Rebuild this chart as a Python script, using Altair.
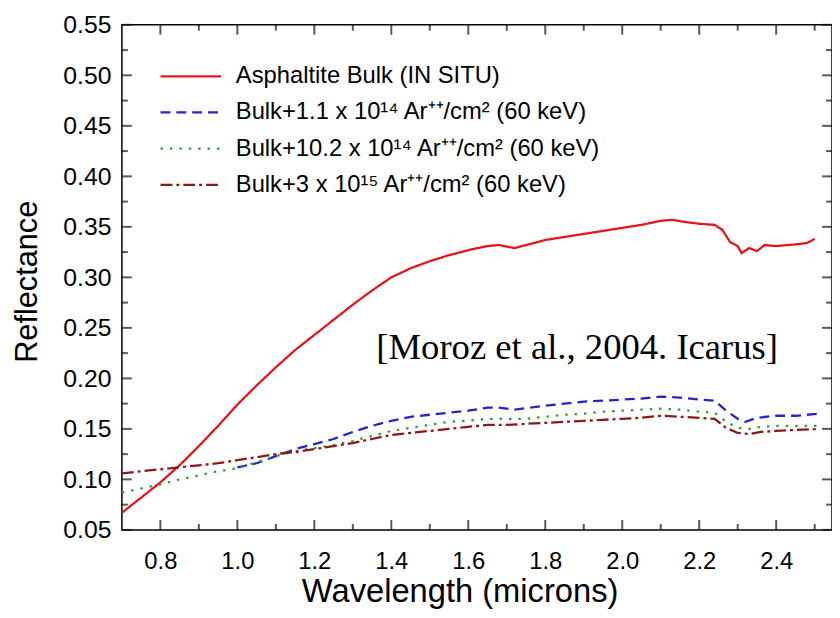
import altair as alt
import pandas as pd

# ---------------- data ----------------
series_names = [
    "Asphaltite Bulk (IN SITU)",
    "Bulk+1.1 x 10¹⁴ Ar⁺⁺/cm² (60 keV)",
    "Bulk+10.2 x 10¹⁴ Ar⁺⁺/cm² (60 keV)",
    "Bulk+3 x 10¹⁵ Ar⁺⁺/cm² (60 keV)",
]
series_colors = ["#e3161d", "#2424c8", "#3a9a3a", "#8a1a1a"]
series_dashes = [[1, 0], [10, 6], [2.5, 7], [12, 4, 3, 4]]

bulk_wl = [0.70, 0.75, 0.80, 0.85, 0.90, 0.95, 1.00, 1.05, 1.10, 1.15, 1.20, 1.25,
           1.30, 1.35, 1.40, 1.45, 1.50, 1.55, 1.60, 1.65, 1.68, 1.72, 1.76, 1.80,
           1.85, 1.90, 1.95, 2.00, 2.05, 2.10, 2.13, 2.16, 2.20, 2.24, 2.26, 2.28,
           2.30, 2.31, 2.33, 2.35, 2.37, 2.40, 2.43, 2.46, 2.48, 2.50]
bulk_refl = [0.067, 0.082, 0.097, 0.114, 0.133, 0.153, 0.174, 0.193, 0.211, 0.228, 0.243, 0.258,
             0.273, 0.287, 0.300, 0.309, 0.316, 0.322, 0.327, 0.331, 0.332, 0.329, 0.333, 0.337,
             0.340, 0.343, 0.346, 0.349, 0.352, 0.356, 0.357, 0.355, 0.353, 0.352, 0.347, 0.335,
             0.331, 0.324, 0.329, 0.326, 0.332, 0.331, 0.332, 0.333, 0.334, 0.338]

ar11_wl = [1.00, 1.05, 1.10, 1.15, 1.20, 1.25, 1.30, 1.35, 1.40, 1.45, 1.50, 1.55,
           1.60, 1.65, 1.68, 1.72, 1.76, 1.80, 1.85, 1.90, 1.95, 2.00, 2.05, 2.10,
           2.15, 2.20, 2.24, 2.27, 2.30, 2.32, 2.35, 2.40, 2.45, 2.51]
ar11_refl = [0.112, 0.116, 0.123, 0.130, 0.135, 0.140, 0.147, 0.153, 0.158, 0.162, 0.164, 0.166,
             0.168, 0.171, 0.171, 0.169, 0.171, 0.173, 0.175, 0.177, 0.178, 0.179, 0.180, 0.182,
             0.181, 0.179, 0.178, 0.168, 0.160, 0.157, 0.161, 0.163, 0.163, 0.165]

ar102_wl = [0.70, 0.75, 0.80, 0.85, 0.90, 0.95, 1.00, 1.05, 1.10, 1.15, 1.20, 1.25,
            1.30, 1.35, 1.40, 1.45, 1.50, 1.55, 1.60, 1.65, 1.70, 1.75, 1.80, 1.85,
            1.90, 1.95, 2.00, 2.05, 2.10, 2.15, 2.20, 2.24, 2.27, 2.30, 2.33, 2.36,
            2.40, 2.45, 2.51]
ar102_refl = [0.087, 0.091, 0.095, 0.100, 0.104, 0.108, 0.111, 0.117, 0.123, 0.128, 0.131, 0.134,
              0.138, 0.143, 0.148, 0.151, 0.154, 0.157, 0.158, 0.160, 0.160, 0.160, 0.162, 0.164,
              0.165, 0.167, 0.168, 0.169, 0.170, 0.169, 0.167, 0.166, 0.157, 0.151, 0.150, 0.152,
              0.153, 0.153, 0.153]

ar3_wl = [0.70, 0.75, 0.80, 0.85, 0.90, 0.95, 1.00, 1.05, 1.10, 1.15, 1.20, 1.25,
          1.30, 1.35, 1.40, 1.45, 1.50, 1.55, 1.60, 1.65, 1.70, 1.75, 1.80, 1.85,
          1.90, 1.95, 2.00, 2.05, 2.10, 2.15, 2.20, 2.24, 2.27, 2.30, 2.33, 2.36,
          2.40, 2.45, 2.51]
ar3_refl = [0.106, 0.108, 0.110, 0.112, 0.114, 0.116, 0.119, 0.122, 0.125, 0.127, 0.130, 0.133,
            0.136, 0.140, 0.144, 0.146, 0.148, 0.150, 0.152, 0.154, 0.154, 0.155, 0.156, 0.157,
            0.158, 0.159, 0.160, 0.161, 0.163, 0.162, 0.161, 0.160, 0.151, 0.146, 0.145, 0.147,
            0.148, 0.149, 0.150]

x_major_ticks = [0.8, 1.0, 1.2, 1.4, 1.6, 1.8, 2.0, 2.2, 2.4]
x_minor_ticks = [0.9, 1.1, 1.3, 1.5, 1.7, 1.9, 2.1, 2.3, 2.5]
y_major_ticks = [0.05, 0.10, 0.15, 0.20, 0.25, 0.30, 0.35, 0.40, 0.45, 0.50, 0.55]
y_minor_ticks = [0.075, 0.125, 0.175, 0.225, 0.275, 0.325, 0.375, 0.425, 0.475, 0.525]

note_text = ["[Moroz et al., 2004. Icarus]"]
note_wl = [1.883]
note_refl = [0.230]

# ---------------- tables ----------------
frames = []
for name, wl, rf in [(series_names[0], bulk_wl, bulk_refl),
                     (series_names[1], ar11_wl, ar11_refl),
                     (series_names[2], ar102_wl, ar102_refl),
                     (series_names[3], ar3_wl, ar3_refl)]:
    frames.append(pd.DataFrame({"w": wl, "r": rf, "series": name}))
df = pd.concat(frames, ignore_index=True)
df["order"] = df.index
note_df = pd.DataFrame({"w": note_wl, "r": note_refl, "t": note_text})
legend_df = pd.DataFrame({"series": series_names})

FONT = "Liberation Sans"
W, H = 717, 510
MAJ, MIN = 10, 6
x_scale = alt.Scale(domain=[0.7, 2.545], nice=False, zero=False)
y_scale = alt.Scale(domain=[0.05, 0.55], nice=False, zero=False)
color_scale = alt.Scale(domain=series_names, range=series_colors)
dash_scale = alt.Scale(domain=series_names, range=series_dashes)
legend_rows = alt.Scale(type="point", domain=series_names, range=[52, 161.5], padding=0)

x_axis_bottom = alt.Axis(
    values=x_major_ticks, orient="bottom", format=".1f", ticks=False, domain=False,
    grid=False, labelFont=FONT, labelFontSize=24, labelColor="black", labelPadding=20,
    labelFlush=False, labelOverlap=False,
    title="Wavelength (microns)", titleFont=FONT, titleFontSize=33,
    titleFontWeight="normal", titleColor="black", titleX=341, titleY=62,
    titleAlign="center", titleBaseline="middle")
y_axis_left = alt.Axis(
    values=y_major_ticks, orient="left", format=".2f", ticks=False, domain=False,
    grid=False, labelFont=FONT, labelFontSize=25, labelColor="black", labelPadding=11,
    labelFlush=False, labelOverlap=False,
    title="Reflectance", titleFont=FONT, titleFontSize=31,
    titleFontWeight="normal", titleColor="black", titleAngle=270,
    titleX=-95, titleY=259, titleAlign="center", titleBaseline="middle")

lines = alt.Chart(df).mark_line(strokeWidth=2.3).encode(
    x=alt.X("w:Q", scale=x_scale, axis=x_axis_bottom),
    y=alt.Y("r:Q", scale=y_scale, axis=y_axis_left),
    color=alt.Color("series:N", scale=color_scale, legend=None),
    strokeDash=alt.StrokeDash("series:N", scale=dash_scale, legend=None),
    order="order:Q",
)

note = alt.Chart(note_df).mark_text(
    font="Liberation Serif", fontSize=37, color="black", align="center", baseline="middle"
).encode(
    x=alt.X("w:Q", scale=x_scale, axis=None),
    y=alt.Y("r:Q", scale=y_scale, axis=None),
    text="t:N",
)

key_lines = alt.Chart(legend_df).mark_rule(strokeWidth=2.3).encode(
    y=alt.Y("series:N", scale=legend_rows, axis=None),
    x=alt.value(39), x2=alt.value(100),
    color=alt.Color("series:N", scale=color_scale, legend=None),
    strokeDash=alt.StrokeDash("series:N", scale=dash_scale, legend=None),
)
key_text = alt.Chart(legend_df).mark_text(
    font=FONT, fontSize=24, color="black", align="left", baseline="middle"
).encode(
    y=alt.Y("series:N", scale=legend_rows, axis=None),
    x=alt.value(115),
    text="series:N",
)


# inward tick marks on all four sides, each shifted half its length into the plot
def x_ticks_layer(values, edge, length, inward):
    return alt.Chart(pd.DataFrame({"tx": values})).mark_tick(
        color="#111111", thickness=2, orient="vertical", size=length,
        yOffset=inward * length / 2
    ).encode(x=alt.X("tx:Q", scale=x_scale, axis=None), y=alt.value(edge))


def y_ticks_layer(values, edge, length, inward):
    return alt.Chart(pd.DataFrame({"ty": values})).mark_tick(
        color="#111111", thickness=2, orient="horizontal", size=length,
        xOffset=inward * length / 2
    ).encode(y=alt.Y("ty:Q", scale=y_scale, axis=None), x=alt.value(edge))


tick_layers = [
    x_ticks_layer(x_major_ticks, H, MAJ, -1),
    x_ticks_layer(x_minor_ticks, H, MIN, -1),
    x_ticks_layer(x_major_ticks, 0, MAJ, 1),
    x_ticks_layer(x_minor_ticks, 0, MIN, 1),
    y_ticks_layer(y_major_ticks, 0, MAJ, 1),
    y_ticks_layer(y_minor_ticks, 0, MIN, 1),
    y_ticks_layer(y_major_ticks, W, MAJ, -1),
    y_ticks_layer(y_minor_ticks, W, MIN, -1),
]

chart = alt.layer(*tick_layers, lines, note, key_lines, key_text).resolve_scale(
    y="independent"
).resolve_axis(
    x="independent", y="independent"
).properties(
    width=W, height=H,
    autosize=alt.AutoSizeParams(type="none"),
    padding={"left": 115, "top": 14, "right": 0, "bottom": 90},
    background="white",
).configure_view(stroke="black", strokeWidth=1.5)

chart.save("out.html", embed_options={"renderer": "svg", "actions": False})
